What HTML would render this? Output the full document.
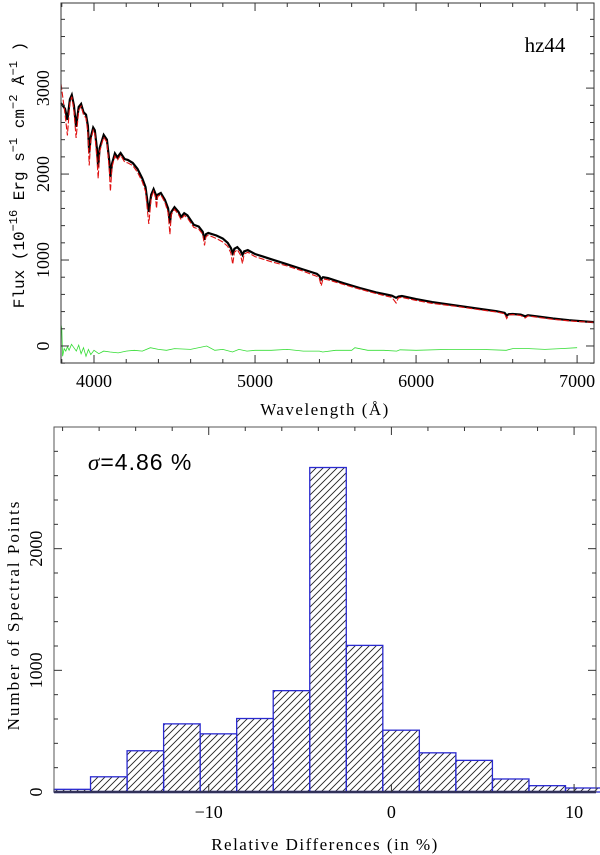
<!DOCTYPE html>
<html><head><meta charset="utf-8"><style>
body{margin:0;background:#fff;}
svg{display:block;font-family:"Liberation Serif",serif;}
</style></head><body>
<svg id="c" width="600" height="855" xmlns="http://www.w3.org/2000/svg">
<defs><pattern id="hatch" patternUnits="userSpaceOnUse" width="7" height="7"><path d="M-1,8 L8,-1 M-4,4 L4,-4 M3,11 L11,3" stroke="#222" stroke-width="0.9"/></pattern></defs>
<g id="top"></g>
<g id="bot"></g>
</svg>
<script>
// ---- spectrum data ----
const waves = [3795,3820,3835,3850,3862,3875,3889,3905,3920,3935,3950,3962,3970,3980,3995,4005,4018,4026,4035,4060,4080,4095,4102,4112,4130,4145,4165,4190,4210,4240,4270,4300,4320,4340,4355,4370,4382,4388,4395,4415,4440,4460,4471,4480,4500,4525,4540,4560,4580,4620,4650,4675,4686,4695,4710,4760,4800,4830,4850,4861,4872,4890,4910,4922,4932,4955,5000,5050,5100,5200,5300,5384,5400,5411,5422,5453,5550,5651,5750,5850,5876,5890,5912,6000,6100,6253,6400,6500,6550,6563,6575,6600,6650,6678,6695,6750,6850,6950,7050,7105];
const observedFlux = [2825,2760,2630,2870,2920,2800,2550,2780,2815,2720,2690,2560,2250,2430,2540,2510,2300,2080,2300,2455,2400,2150,1965,2120,2240,2195,2245,2175,2165,2130,2060,1950,1850,1560,1760,1825,1770,1700,1760,1780,1700,1600,1430,1560,1615,1560,1500,1545,1520,1410,1390,1330,1235,1300,1315,1285,1250,1200,1140,1080,1130,1150,1110,1060,1100,1115,1070,1040,1010,950,890,840,815,775,800,790,730,675,625,585,560,575,581,545,510,470,430,405,385,355,370,372,365,345,358,345,320,300,285,278];
const modelFlux = [3050,2700,2450,2830,2900,2740,2420,2740,2790,2690,2650,2480,2100,2390,2510,2470,2180,1950,2260,2430,2370,2050,1800,2080,2210,2160,2220,2140,2130,2100,2020,1910,1800,1420,1720,1800,1730,1600,1740,1760,1670,1550,1300,1530,1590,1530,1470,1520,1490,1380,1360,1300,1170,1270,1290,1250,1210,1160,1080,950,1090,1120,1060,960,1070,1090,1040,1010,980,930,870,810,780,700,780,770,715,660,610,565,500,560,565,530,495,460,420,395,375,320,360,365,355,325,350,335,310,292,280,275];
const residWaves = [3795,3800,3805,3815,3825,3835,3845,3860,3875,3890,3905,3920,3935,3950,3965,3980,4000,4030,4060,4100,4150,4200,4250,4300,4350,4400,4450,4500,4600,4700,4750,4800,4860,4900,4950,5000,5100,5200,5300,5400,5420,5500,5600,5620,5700,5800,5880,5900,6000,6200,6400,6560,6600,6700,6800,6900,7000];
const residFlux = [250,200,-120,-30,-60,-10,-50,20,-20,-60,10,-90,-20,-120,-40,-100,-50,-90,-60,-70,-80,-60,-50,-60,-20,-40,-50,-30,-40,0,-50,-40,-70,-40,-60,-50,-50,-40,-60,-60,-70,-50,-50,-20,-50,-50,-60,-45,-50,-40,-40,-50,-30,-30,-40,-30,-20];
const wTicks = [4000,5000,6000,7000];
const fTicks = [0,1000,2000,3000];
// ---- histogram data ----
const binEdgesStart = -18.47;
const binWidth = 2;
const binCounts = [22,125,339,560,478,604,833,2667,1205,508,322,260,107,52,33];
const dTicks = [-10,0,10];
const nTicks = [0,1000,2000];

const NS="http://www.w3.org/2000/svg";
function mk(parent,tag,attrs,text){const e=document.createElementNS(NS,tag);for(const k in attrs)e.setAttribute(k,attrs[k]);if(text!==undefined)e.textContent=text;parent.appendChild(e);return e;}

// ---- top panel ----
const T=document.getElementById('top');
const tx0=61,tx1=594,ty0=3,ty1=363,wmin=3795,wmax=7105,fmin=-198,fmax=3990;
const X=w=>tx0+(w-wmin)/(wmax-wmin)*(tx1-tx0);
const Y=f=>ty1-(f-fmin)/(fmax-fmin)*(ty1-ty0);
function line(g,xs,ys,attrs,name){let d='';xs.forEach((w,i)=>{d+=(i?'L':'M')+X(w).toFixed(1)+','+Y(ys[i]).toFixed(1);});const p=mk(g,'path',Object.assign({d:d,fill:'none'},attrs));return p;}
line(T,residWaves,residFlux,{stroke:'#33dd33','stroke-width':0.8},'residual-line');
line(T,waves,observedFlux,{stroke:'#000','stroke-width':2.2},'observed-spectrum');
line(T,waves,modelFlux,{stroke:'#e01010','stroke-width':1.1,'stroke-dasharray':'6,2'},'model-spectrum');
const tf=mk(T,'rect',{x:tx0,y:ty0,width:tx1-tx0,height:ty1-ty0,fill:'none',stroke:'#333','stroke-width':1});

for(let w=3800;w<=7100;w+=200){const L=(w%1000===0)?8:4;mk(T,'line',{x1:X(w),x2:X(w),y1:ty1,y2:ty1-L,stroke:'#333'});mk(T,'line',{x1:X(w),x2:X(w),y1:ty0,y2:ty0+L,stroke:'#333'});}
for(let f=-200;f<=3900;f+=200){const L=(f%1000===0)?8:4;mk(T,'line',{x1:tx0,x2:tx0+L,y1:Y(f),y2:Y(f),stroke:'#333'});mk(T,'line',{x1:tx1,x2:tx1-L,y1:Y(f),y2:Y(f),stroke:'#333'});}
wTicks.forEach(w=>{const t=mk(T,'text',{x:X(w),y:ty1+24,'text-anchor':'middle','font-size':18},String(w));});
fTicks.forEach(f=>{const t=mk(T,'text',{x:0,y:0,'text-anchor':'middle','font-size':18,transform:`translate(49,${Y(f)}) rotate(-90)`},String(f));});

// ---- bottom panel ----
const B=document.getElementById('bot');
const bx0=54,bx1=596,by0=427,by1=792,dmin=-18.47,dmax=11.2,cmax=3000;
const BX=d=>bx0+(d-dmin)/(dmax-dmin)*(bx1-bx0);
const BY=c=>by1-c/cmax*(by1-by0);
binCounts.forEach((c,i)=>{const a=binEdgesStart+i*binWidth,b=a+binWidth;
 const r=mk(B,'rect',{x:BX(a),y:BY(c),width:BX(b)-BX(a),height:by1-BY(c),fill:'url(#hatch)',stroke:'#2a2ad0','stroke-width':1.3});
 });
mk(B,'line',{x1:bx0,x2:bx1,y1:by1,y2:by1,stroke:'#101060','stroke-width':2.5});
const bf=mk(B,'rect',{x:bx0,y:by0,width:bx1-bx0,height:by1-by0,fill:'none',stroke:'#555','stroke-width':1});

for(let d=-18;d<=11;d+=2){const L=(d%10===0)?8:4;mk(B,'line',{x1:BX(d),x2:BX(d),y1:by0,y2:by0+L,stroke:'#333'});if(d!==0&&d%10!==0)continue;mk(B,'line',{x1:BX(d),x2:BX(d),y1:by1,y2:by1-L,stroke:'#333'});}
for(let c=200;c<3000;c+=200){const L=(c%1000===0)?8:4;mk(B,'line',{x1:bx0,x2:bx0+L,y1:BY(c),y2:BY(c),stroke:'#333'});mk(B,'line',{x1:bx1,x2:bx1-L,y1:BY(c),y2:BY(c),stroke:'#333'});}
dTicks.forEach(d=>{const t=mk(B,'text',{x:BX(d),y:by1+26,'text-anchor':'middle','font-size':18},d<0?'\u2212'+Math.abs(d):String(d));});
nTicks.forEach(c=>{const t=mk(B,'text',{x:0,y:0,'text-anchor':'middle','font-size':18,transform:`translate(42,${BY(c)}) rotate(-90)`},String(c));});
</script>
<svg style="position:absolute;left:0;top:0" width="600" height="855">
<text x="545" y="52" font-family="Liberation Serif,serif" font-size="21" text-anchor="middle">hz44</text>
<text x="0" y="0" transform="translate(24,175) rotate(-90)" font-family="Liberation Mono,monospace" font-size="16" text-anchor="middle">Flux (10<tspan dy="-7" font-size="12">−16</tspan><tspan dy="7"> Erg s</tspan><tspan dy="-7" font-size="12">−1</tspan><tspan dy="7"> cm</tspan><tspan dy="-7" font-size="12">−2</tspan><tspan dy="7"> Å</tspan><tspan dy="-7" font-size="12">−1</tspan><tspan dy="7"> )</tspan></text>
<text x="325" y="415" font-family="Liberation Serif,serif" font-size="17" text-anchor="middle" letter-spacing="1.5">Wavelength (Å)</text>
<text x="88" y="470" font-family="Liberation Sans,sans-serif" font-size="23" letter-spacing="1"><tspan font-style="italic" font-family="Liberation Serif,serif">σ</tspan>=4.86 %</text>
<text x="0" y="0" transform="translate(19,615) rotate(-90)" font-family="Liberation Serif,serif" font-size="17" letter-spacing="2" text-anchor="middle">Number of Spectral Points</text>
<text x="325" y="850" font-family="Liberation Serif,serif" font-size="17" text-anchor="middle" letter-spacing="1.5">Relative Differences (in %)</text>
</svg>
</body></html>
